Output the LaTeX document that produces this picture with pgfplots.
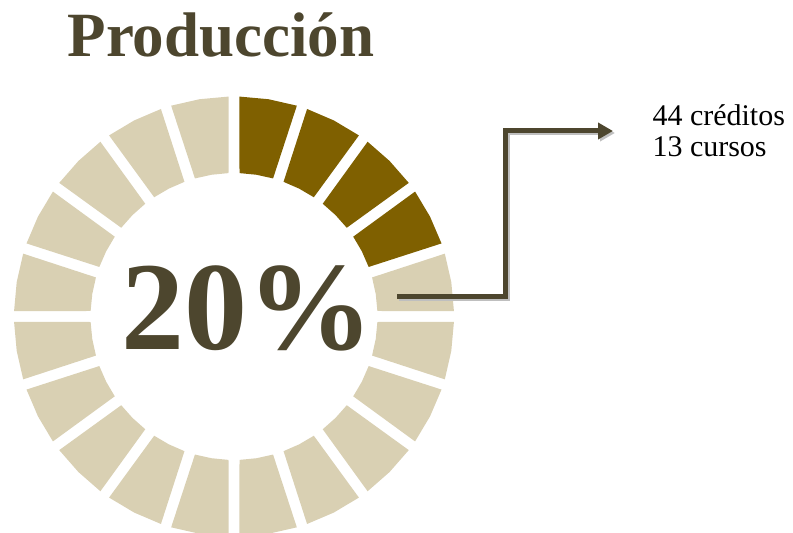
\documentclass[border=0pt]{standalone}
\usepackage{pgfplots}
\pgfplotsset{compat=1.18}
\usepackage{fontspec}
\setmainfont{Liberation Serif}
\usetikzlibrary{arrows.meta}

\definecolor{segdark}{HTML}{7F6000}
\definecolor{seglight}{HTML}{D9D0B3}
\definecolor{txtbrown}{HTML}{4D462E}

\begin{document}
\begin{tikzpicture}
\begin{axis}[
    width=793pt, height=533pt, scale only axis,
    hide axis,
    xmin=-234, xmax=559,
    ymin=-216.5, ymax=316.5,
    every axis plot/.append style={data cs=polar, draw=none},
]
\coordinate (sw) at (rel axis cs:0,0);
\coordinate (ne) at (rel axis cs:1,1);
% 20 segments of 5% each, 4 filled (20%); (angle, radius) in px
\addplot[fill=segdark] coordinates {(88.6,220)(81,220)(73.4,220)(74.2,143.5)(81,143.5)(87.8,143.5)};
\addplot[fill=segdark] coordinates {(70.6,220)(63,220)(55.4,220)(56.2,143.5)(63,143.5)(69.8,143.5)};
\addplot[fill=segdark] coordinates {(52.6,220)(45,220)(37.4,220)(38.2,143.5)(45,143.5)(51.8,143.5)};
\addplot[fill=segdark] coordinates {(34.6,220)(27,220)(19.4,220)(20.2,143.5)(27,143.5)(33.8,143.5)};
\addplot[fill=seglight] coordinates {(16.6,220)(9,220)(1.4,220)(2.2,143.5)(9,143.5)(15.8,143.5)};
\addplot[fill=seglight] coordinates {(-1.4,220)(-9,220)(-16.6,220)(-15.8,143.5)(-9,143.5)(-2.2,143.5)};
\addplot[fill=seglight] coordinates {(-19.4,220)(-27,220)(-34.6,220)(-33.8,143.5)(-27,143.5)(-20.2,143.5)};
\addplot[fill=seglight] coordinates {(-37.4,220)(-45,220)(-52.6,220)(-51.8,143.5)(-45,143.5)(-38.2,143.5)};
\addplot[fill=seglight] coordinates {(-55.4,220)(-63,220)(-70.6,220)(-69.8,143.5)(-63,143.5)(-56.2,143.5)};
\addplot[fill=seglight] coordinates {(-73.4,220)(-81,220)(-88.6,220)(-87.8,143.5)(-81,143.5)(-74.2,143.5)};
\addplot[fill=seglight] coordinates {(-91.4,220)(-99,220)(-106.6,220)(-105.8,143.5)(-99,143.5)(-92.2,143.5)};
\addplot[fill=seglight] coordinates {(-109.4,220)(-117,220)(-124.6,220)(-123.8,143.5)(-117,143.5)(-110.2,143.5)};
\addplot[fill=seglight] coordinates {(-127.4,220)(-135,220)(-142.6,220)(-141.8,143.5)(-135,143.5)(-128.2,143.5)};
\addplot[fill=seglight] coordinates {(-145.4,220)(-153,220)(-160.6,220)(-159.8,143.5)(-153,143.5)(-146.2,143.5)};
\addplot[fill=seglight] coordinates {(-163.4,220)(-171,220)(-178.6,220)(-177.8,143.5)(-171,143.5)(-164.2,143.5)};
\addplot[fill=seglight] coordinates {(-181.4,220)(-189,220)(-196.6,220)(-195.8,143.5)(-189,143.5)(-182.2,143.5)};
\addplot[fill=seglight] coordinates {(-199.4,220)(-207,220)(-214.6,220)(-213.8,143.5)(-207,143.5)(-200.2,143.5)};
\addplot[fill=seglight] coordinates {(-217.4,220)(-225,220)(-232.6,220)(-231.8,143.5)(-225,143.5)(-218.2,143.5)};
\addplot[fill=seglight] coordinates {(-235.4,220)(-243,220)(-250.6,220)(-249.8,143.5)(-243,143.5)(-236.2,143.5)};
\addplot[fill=seglight] coordinates {(-253.4,220)(-261,220)(-268.6,220)(-267.8,143.5)(-261,143.5)(-254.2,143.5)};

% title and centre value
\node[anchor=base, text=txtbrown, font=\fontsize{63}{68}\selectfont\bfseries]
    at (axis cs:-13,259.5) {Producción};
\node[anchor=base, text=txtbrown, font=\fontsize{126}{130}\selectfont\bfseries]
    at (axis cs:13,-33.5) {20\%};

% callout
\draw[gray!50, line width=5pt, -{Triangle[length=15pt,width=16pt]}]
    (axis cs:165,17.5) -- (axis cs:273,17.5) -- (axis cs:273,183.5) -- (axis cs:381,183.5);
\draw[txtbrown, line width=5pt, -{Triangle[length=15pt,width=16pt]}]
    (axis cs:163,19.5) -- (axis cs:271,19.5) -- (axis cs:271,185.5) -- (axis cs:379,185.5);
\node[anchor=base west, font=\fontsize{30}{32}\selectfont] at (axis cs:415,190.5) {44 créditos};
\node[anchor=base west, font=\fontsize{30}{32}\selectfont] at (axis cs:415,159.5) {13 cursos};
\end{axis}
\pgfresetboundingbox
\path (sw) rectangle (ne);
\end{tikzpicture}
\end{document}
